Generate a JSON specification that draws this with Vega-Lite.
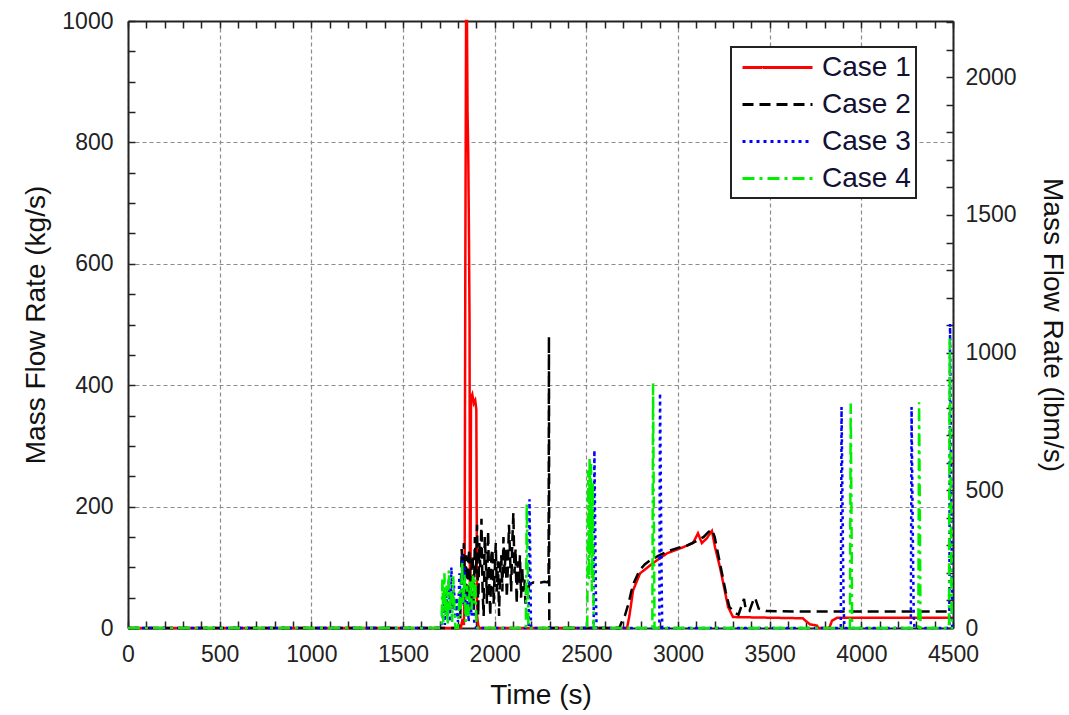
{
  "$schema": "https://vega.github.io/schema/vega-lite/v6.json",
  "width": 825,
  "height": 607,
  "autosize": {"type": "none"},
  "padding": {"left": 128, "top": 21, "right": 116, "bottom": 87},
  "background": "white",
  "config": {
    "font": "Liberation Sans",
    "view": {"stroke": null},
    "axis": {"labelFont": "Liberation Sans", "titleFont": "Liberation Sans", "labelColor": "#222222", "titleColor": "#111111", "tickColor": "#222222", "tickWidth": 1.5, "domain": true, "domainColor": "#222222", "domainWidth": 2},
    "legend": {"strokeColor": "#222222", "strokeWidth": 2, "fillColor": "white"}
  },
  "layer": [
    {
      "data": {
        "values": [
          {"case": "Case 1", "time": 0, "flow": 0},
          {"case": "Case 1", "time": 1815, "flow": 0},
          {"case": "Case 1", "time": 1825, "flow": 15},
          {"case": "Case 1", "time": 1832, "flow": 5},
          {"case": "Case 1", "time": 1836, "flow": 60},
          {"case": "Case 1", "time": 1840, "flow": 600},
          {"case": "Case 1", "time": 1844, "flow": 1000},
          {"case": "Case 1", "time": 1849, "flow": 1000},
          {"case": "Case 1", "time": 1852, "flow": 850},
          {"case": "Case 1", "time": 1856, "flow": 780},
          {"case": "Case 1", "time": 1860, "flow": 640},
          {"case": "Case 1", "time": 1863, "flow": 500},
          {"case": "Case 1", "time": 1865, "flow": 60},
          {"case": "Case 1", "time": 1868, "flow": 30},
          {"case": "Case 1", "time": 1871, "flow": 380},
          {"case": "Case 1", "time": 1878, "flow": 385},
          {"case": "Case 1", "time": 1886, "flow": 370},
          {"case": "Case 1", "time": 1894, "flow": 375},
          {"case": "Case 1", "time": 1900, "flow": 360},
          {"case": "Case 1", "time": 1904, "flow": 20},
          {"case": "Case 1", "time": 1910, "flow": 5},
          {"case": "Case 1", "time": 1915, "flow": 0},
          {"case": "Case 1", "time": 2722, "flow": 0},
          {"case": "Case 1", "time": 2735, "flow": 20},
          {"case": "Case 1", "time": 2755, "flow": 62},
          {"case": "Case 1", "time": 2793, "flow": 90},
          {"case": "Case 1", "time": 2864, "flow": 107},
          {"case": "Case 1", "time": 2940, "flow": 123},
          {"case": "Case 1", "time": 3027, "flow": 133},
          {"case": "Case 1", "time": 3082, "flow": 140},
          {"case": "Case 1", "time": 3109, "flow": 156},
          {"case": "Case 1", "time": 3130, "flow": 140},
          {"case": "Case 1", "time": 3158, "flow": 148},
          {"case": "Case 1", "time": 3175, "flow": 156},
          {"case": "Case 1", "time": 3185, "flow": 160},
          {"case": "Case 1", "time": 3202, "flow": 133},
          {"case": "Case 1", "time": 3229, "flow": 100},
          {"case": "Case 1", "time": 3273, "flow": 35},
          {"case": "Case 1", "time": 3300, "flow": 18},
          {"case": "Case 1", "time": 3500, "flow": 17},
          {"case": "Case 1", "time": 3680, "flow": 16},
          {"case": "Case 1", "time": 3720, "flow": 6},
          {"case": "Case 1", "time": 3758, "flow": 4},
          {"case": "Case 1", "time": 3765, "flow": 0},
          {"case": "Case 1", "time": 3825, "flow": 0},
          {"case": "Case 1", "time": 3840, "flow": 12},
          {"case": "Case 1", "time": 3868, "flow": 17},
          {"case": "Case 1", "time": 4500, "flow": 17},

          {"case": "Case 2", "time": 0, "flow": 0},
          {"case": "Case 2", "time": 1800, "flow": 0},
          {"case": "Case 2", "time": 1812, "flow": 10},
          {"case": "Case 2", "time": 1820, "flow": 130},
          {"case": "Case 2", "time": 1826, "flow": 90},
          {"case": "Case 2", "time": 1832, "flow": 140},
          {"case": "Case 2", "time": 1838, "flow": 60},
          {"case": "Case 2", "time": 1844, "flow": 120},
          {"case": "Case 2", "time": 1850, "flow": 20},
          {"case": "Case 2", "time": 1856, "flow": 110},
          {"case": "Case 2", "time": 1862, "flow": 130},
          {"case": "Case 2", "time": 1868, "flow": 40},
          {"case": "Case 2", "time": 1874, "flow": 100},
          {"case": "Case 2", "time": 1880, "flow": 120},
          {"case": "Case 2", "time": 1886, "flow": 30},
          {"case": "Case 2", "time": 1892, "flow": 150},
          {"case": "Case 2", "time": 1898, "flow": 90},
          {"case": "Case 2", "time": 1904, "flow": 170},
          {"case": "Case 2", "time": 1910, "flow": 20},
          {"case": "Case 2", "time": 1916, "flow": 140},
          {"case": "Case 2", "time": 1922, "flow": 100},
          {"case": "Case 2", "time": 1928, "flow": 180},
          {"case": "Case 2", "time": 1934, "flow": 60},
          {"case": "Case 2", "time": 1940, "flow": 20},
          {"case": "Case 2", "time": 1946, "flow": 150},
          {"case": "Case 2", "time": 1952, "flow": 110},
          {"case": "Case 2", "time": 1958, "flow": 40},
          {"case": "Case 2", "time": 1964, "flow": 160},
          {"case": "Case 2", "time": 1970, "flow": 80},
          {"case": "Case 2", "time": 1976, "flow": 20},
          {"case": "Case 2", "time": 1982, "flow": 120},
          {"case": "Case 2", "time": 1988, "flow": 130},
          {"case": "Case 2", "time": 1994, "flow": 40},
          {"case": "Case 2", "time": 2000, "flow": 90},
          {"case": "Case 2", "time": 2006, "flow": 140},
          {"case": "Case 2", "time": 2012, "flow": 60},
          {"case": "Case 2", "time": 2018, "flow": 110},
          {"case": "Case 2", "time": 2024, "flow": 20},
          {"case": "Case 2", "time": 2030, "flow": 100},
          {"case": "Case 2", "time": 2036, "flow": 120},
          {"case": "Case 2", "time": 2042, "flow": 60},
          {"case": "Case 2", "time": 2048, "flow": 150},
          {"case": "Case 2", "time": 2054, "flow": 90},
          {"case": "Case 2", "time": 2060, "flow": 130},
          {"case": "Case 2", "time": 2066, "flow": 50},
          {"case": "Case 2", "time": 2072, "flow": 100},
          {"case": "Case 2", "time": 2078, "flow": 170},
          {"case": "Case 2", "time": 2084, "flow": 120},
          {"case": "Case 2", "time": 2090, "flow": 60},
          {"case": "Case 2", "time": 2096, "flow": 140},
          {"case": "Case 2", "time": 2102, "flow": 190},
          {"case": "Case 2", "time": 2108, "flow": 90},
          {"case": "Case 2", "time": 2114, "flow": 130},
          {"case": "Case 2", "time": 2120, "flow": 40},
          {"case": "Case 2", "time": 2126, "flow": 110},
          {"case": "Case 2", "time": 2132, "flow": 70},
          {"case": "Case 2", "time": 2138, "flow": 120},
          {"case": "Case 2", "time": 2144, "flow": 50},
          {"case": "Case 2", "time": 2150, "flow": 100},
          {"case": "Case 2", "time": 2156, "flow": 60},
          {"case": "Case 2", "time": 2162, "flow": 80},
          {"case": "Case 2", "time": 2168, "flow": 40},
          {"case": "Case 2", "time": 2174, "flow": 70},
          {"case": "Case 2", "time": 2180, "flow": 60},
          {"case": "Case 2", "time": 2190, "flow": 72},
          {"case": "Case 2", "time": 2210, "flow": 75},
          {"case": "Case 2", "time": 2240, "flow": 74},
          {"case": "Case 2", "time": 2270, "flow": 76},
          {"case": "Case 2", "time": 2294, "flow": 75},
          {"case": "Case 2", "time": 2296, "flow": 480},
          {"case": "Case 2", "time": 2298, "flow": 0},
          {"case": "Case 2", "time": 2680, "flow": 0},
          {"case": "Case 2", "time": 2690, "flow": 8},
          {"case": "Case 2", "time": 2710, "flow": 20},
          {"case": "Case 2", "time": 2730, "flow": 40},
          {"case": "Case 2", "time": 2745, "flow": 60},
          {"case": "Case 2", "time": 2760, "flow": 75},
          {"case": "Case 2", "time": 2790, "flow": 95},
          {"case": "Case 2", "time": 2820, "flow": 105},
          {"case": "Case 2", "time": 2850, "flow": 112},
          {"case": "Case 2", "time": 2900, "flow": 120},
          {"case": "Case 2", "time": 2950, "flow": 127},
          {"case": "Case 2", "time": 3000, "flow": 132},
          {"case": "Case 2", "time": 3050, "flow": 136},
          {"case": "Case 2", "time": 3100, "flow": 143},
          {"case": "Case 2", "time": 3140, "flow": 150},
          {"case": "Case 2", "time": 3165, "flow": 158},
          {"case": "Case 2", "time": 3185, "flow": 162},
          {"case": "Case 2", "time": 3200, "flow": 150},
          {"case": "Case 2", "time": 3220, "flow": 120},
          {"case": "Case 2", "time": 3240, "flow": 90},
          {"case": "Case 2", "time": 3260, "flow": 60},
          {"case": "Case 2", "time": 3280, "flow": 35},
          {"case": "Case 2", "time": 3310, "flow": 25},
          {"case": "Case 2", "time": 3330, "flow": 22},
          {"case": "Case 2", "time": 3345, "flow": 35},
          {"case": "Case 2", "time": 3360, "flow": 48},
          {"case": "Case 2", "time": 3370, "flow": 30},
          {"case": "Case 2", "time": 3390, "flow": 28},
          {"case": "Case 2", "time": 3410, "flow": 45},
          {"case": "Case 2", "time": 3420, "flow": 50},
          {"case": "Case 2", "time": 3440, "flow": 32},
          {"case": "Case 2", "time": 3480, "flow": 28},
          {"case": "Case 2", "time": 3700, "flow": 27},
          {"case": "Case 2", "time": 4000, "flow": 27},
          {"case": "Case 2", "time": 4300, "flow": 27},
          {"case": "Case 2", "time": 4500, "flow": 27},

          {"case": "Case 3", "time": 0, "flow": 0},
          {"case": "Case 3", "time": 1700, "flow": 0},
          {"case": "Case 3", "time": 1715, "flow": 10},
          {"case": "Case 3", "time": 1722, "flow": 40},
          {"case": "Case 3", "time": 1728, "flow": 5},
          {"case": "Case 3", "time": 1736, "flow": 60},
          {"case": "Case 3", "time": 1742, "flow": 20},
          {"case": "Case 3", "time": 1750, "flow": 80},
          {"case": "Case 3", "time": 1756, "flow": 10},
          {"case": "Case 3", "time": 1764, "flow": 100},
          {"case": "Case 3", "time": 1770, "flow": 30},
          {"case": "Case 3", "time": 1778, "flow": 70},
          {"case": "Case 3", "time": 1784, "flow": 15},
          {"case": "Case 3", "time": 1792, "flow": 50},
          {"case": "Case 3", "time": 1800, "flow": 10},
          {"case": "Case 3", "time": 1808, "flow": 90},
          {"case": "Case 3", "time": 1816, "flow": 30},
          {"case": "Case 3", "time": 1824, "flow": 120},
          {"case": "Case 3", "time": 1830, "flow": 40},
          {"case": "Case 3", "time": 1836, "flow": 100},
          {"case": "Case 3", "time": 1842, "flow": 20},
          {"case": "Case 3", "time": 1850, "flow": 70},
          {"case": "Case 3", "time": 1858, "flow": 10},
          {"case": "Case 3", "time": 1866, "flow": 50},
          {"case": "Case 3", "time": 1874, "flow": 20},
          {"case": "Case 3", "time": 1882, "flow": 40},
          {"case": "Case 3", "time": 1890, "flow": 5},
          {"case": "Case 3", "time": 1900, "flow": 0},
          {"case": "Case 3", "time": 2185, "flow": 0},
          {"case": "Case 3", "time": 2190, "flow": 212},
          {"case": "Case 3", "time": 2194, "flow": 120},
          {"case": "Case 3", "time": 2198, "flow": 0},
          {"case": "Case 3", "time": 2540, "flow": 0},
          {"case": "Case 3", "time": 2544, "flow": 293},
          {"case": "Case 3", "time": 2548, "flow": 180},
          {"case": "Case 3", "time": 2552, "flow": 60},
          {"case": "Case 3", "time": 2556, "flow": 0},
          {"case": "Case 3", "time": 2898, "flow": 0},
          {"case": "Case 3", "time": 2902, "flow": 387},
          {"case": "Case 3", "time": 2906, "flow": 250},
          {"case": "Case 3", "time": 2910, "flow": 100},
          {"case": "Case 3", "time": 2914, "flow": 0},
          {"case": "Case 3", "time": 3888, "flow": 0},
          {"case": "Case 3", "time": 3892, "flow": 364},
          {"case": "Case 3", "time": 3896, "flow": 250},
          {"case": "Case 3", "time": 3900, "flow": 120},
          {"case": "Case 3", "time": 3904, "flow": 30},
          {"case": "Case 3", "time": 3908, "flow": 0},
          {"case": "Case 3", "time": 4270, "flow": 0},
          {"case": "Case 3", "time": 4274, "flow": 364},
          {"case": "Case 3", "time": 4278, "flow": 240},
          {"case": "Case 3", "time": 4282, "flow": 120},
          {"case": "Case 3", "time": 4286, "flow": 20},
          {"case": "Case 3", "time": 4290, "flow": 0},
          {"case": "Case 3", "time": 4480, "flow": 0},
          {"case": "Case 3", "time": 4484, "flow": 501},
          {"case": "Case 3", "time": 4490, "flow": 250},
          {"case": "Case 3", "time": 4495, "flow": 0},
          {"case": "Case 3", "time": 4500, "flow": 0},

          {"case": "Case 4", "time": 0, "flow": 0},
          {"case": "Case 4", "time": 1710, "flow": 0},
          {"case": "Case 4", "time": 1715, "flow": 80},
          {"case": "Case 4", "time": 1720, "flow": 10},
          {"case": "Case 4", "time": 1726, "flow": 90},
          {"case": "Case 4", "time": 1732, "flow": 20},
          {"case": "Case 4", "time": 1738, "flow": 70},
          {"case": "Case 4", "time": 1744, "flow": 5},
          {"case": "Case 4", "time": 1750, "flow": 95},
          {"case": "Case 4", "time": 1756, "flow": 30},
          {"case": "Case 4", "time": 1762, "flow": 60},
          {"case": "Case 4", "time": 1768, "flow": 10},
          {"case": "Case 4", "time": 1774, "flow": 85},
          {"case": "Case 4", "time": 1780, "flow": 40},
          {"case": "Case 4", "time": 1786, "flow": 0},
          {"case": "Case 4", "time": 1800, "flow": 0},
          {"case": "Case 4", "time": 1808, "flow": 60},
          {"case": "Case 4", "time": 1814, "flow": 20},
          {"case": "Case 4", "time": 1822, "flow": 110},
          {"case": "Case 4", "time": 1828, "flow": 40},
          {"case": "Case 4", "time": 1836, "flow": 90},
          {"case": "Case 4", "time": 1842, "flow": 10},
          {"case": "Case 4", "time": 1850, "flow": 70},
          {"case": "Case 4", "time": 1858, "flow": 20},
          {"case": "Case 4", "time": 1866, "flow": 80},
          {"case": "Case 4", "time": 1874, "flow": 30},
          {"case": "Case 4", "time": 1882, "flow": 90},
          {"case": "Case 4", "time": 1888, "flow": 40},
          {"case": "Case 4", "time": 1894, "flow": 80},
          {"case": "Case 4", "time": 1900, "flow": 10},
          {"case": "Case 4", "time": 1906, "flow": 0},
          {"case": "Case 4", "time": 2170, "flow": 0},
          {"case": "Case 4", "time": 2175, "flow": 205},
          {"case": "Case 4", "time": 2180, "flow": 100},
          {"case": "Case 4", "time": 2184, "flow": 0},
          {"case": "Case 4", "time": 2505, "flow": 0},
          {"case": "Case 4", "time": 2510, "flow": 260},
          {"case": "Case 4", "time": 2514, "flow": 80},
          {"case": "Case 4", "time": 2518, "flow": 280},
          {"case": "Case 4", "time": 2522, "flow": 120},
          {"case": "Case 4", "time": 2526, "flow": 270},
          {"case": "Case 4", "time": 2530, "flow": 60},
          {"case": "Case 4", "time": 2535, "flow": 240},
          {"case": "Case 4", "time": 2540, "flow": 0},
          {"case": "Case 4", "time": 2860, "flow": 0},
          {"case": "Case 4", "time": 2864, "flow": 403},
          {"case": "Case 4", "time": 2868, "flow": 200},
          {"case": "Case 4", "time": 2872, "flow": 0},
          {"case": "Case 4", "time": 3938, "flow": 0},
          {"case": "Case 4", "time": 3942, "flow": 370},
          {"case": "Case 4", "time": 3946, "flow": 200},
          {"case": "Case 4", "time": 3950, "flow": 0},
          {"case": "Case 4", "time": 4311, "flow": 0},
          {"case": "Case 4", "time": 4315, "flow": 372},
          {"case": "Case 4", "time": 4319, "flow": 200},
          {"case": "Case 4", "time": 4323, "flow": 0},
          {"case": "Case 4", "time": 4478, "flow": 0},
          {"case": "Case 4", "time": 4482, "flow": 477},
          {"case": "Case 4", "time": 4488, "flow": 200},
          {"case": "Case 4", "time": 4494, "flow": 0},
          {"case": "Case 4", "time": 4500, "flow": 0}
        ]
      },
      "mark": {"type": "line", "strokeWidth": 2.5, "clip": false},
      "encoding": {
        "x": {
          "field": "time", "type": "quantitative",
          "scale": {"domain": [0, 4500], "nice": false},
          "axis": {
            "orient": "bottom", "title": "Time (s)", "titleFontSize": 28, "titleFontWeight": "normal",
            "titleX": 412.5, "titleY": 75, "titleBaseline": "alphabetic", "titleAlign": "center",
            "values": [0,100,200,300,400,500,600,700,800,900,1000,1100,1200,1300,1400,1500,1600,1700,1800,1900,2000,2100,2200,2300,2400,2500,2600,2700,2800,2900,3000,3100,3200,3300,3400,3500,3600,3700,3800,3900,4000,4100,4200,4300,4400,4500],
            "format": "d",
            "labelExpr": "datum.value % 500 === 0 ? datum.label : ''",
            "labelFontSize": 23, "labelPadding": 22, "labelFlush": false, "labelOverlap": false,
            "tickSize": -7,
            "grid": true, "gridColor": "#8c8c8c", "gridDash": [4, 3], "gridWidth": 1.2,
            "gridOpacity": {"condition": {"test": "datum.value % 500 === 0", "value": 1}, "value": 0}
          }
        },
        "y": {
          "field": "flow", "type": "quantitative",
          "scale": {"domain": [0, 1000], "nice": false},
          "axis": {
            "orient": "left", "title": "Mass Flow Rate (kg/s)", "titleFontSize": 28, "titleFontWeight": "normal",
            "titleX": -84, "titleY": 303.5, "titleAngle": -90, "titleBaseline": "alphabetic", "titleAlign": "center",
            "values": [0,50,100,150,200,250,300,350,400,450,500,550,600,650,700,750,800,850,900,950,1000],
            "format": "d",
            "labelExpr": "datum.value % 200 === 0 ? datum.label : ''",
            "labelFontSize": 23, "labelPadding": 22, "labelFlush": false, "labelOverlap": false,
            "tickSize": -7,
            "grid": true, "gridColor": "#8c8c8c", "gridDash": [4, 3], "gridWidth": 1.2,
            "gridOpacity": {"condition": {"test": "datum.value % 200 === 0", "value": 1}, "value": 0}
          }
        },
        "color": {
          "field": "case", "type": "nominal",
          "scale": {"domain": ["Case 1", "Case 2", "Case 3", "Case 4"], "range": ["#ff0000", "#000000", "#0000ff", "#00ee00"]},
          "legend": {
            "title": null, "orient": "none", "legendX": 603, "legendY": 26,
            "padding": 5,
            "labelFontSize": 28, "labelFont": "Liberation Sans", "labelColor": "#111133",
            "symbolType": "M-2.5,0H2.5", "symbolSize": 784, "symbolStrokeWidth": 3,
            "symbolOffset": 26, "labelOffset": 29, "rowPadding": 7
          }
        },
        "strokeDash": {
          "field": "case", "type": "nominal",
          "scale": {"domain": ["Case 1", "Case 2", "Case 3", "Case 4"], "range": [[1, 0], [11, 6], [3, 4], [12, 5, 3, 5]]},
          "legend": {"title": null}
        }
      }
    },
    {
      "data": {"values": [{"time": 0, "lbm": 0}, {"time": 4500, "lbm": 2204.6}]},
      "mark": {"type": "point", "opacity": 0},
      "encoding": {
        "x": {
          "field": "time", "type": "quantitative",
          "scale": {"domain": [0, 4500], "nice": false},
          "axis": {
            "orient": "top", "title": null, "labels": false, "grid": false, "tickSize": -7,
            "values": [0,100,200,300,400,500,600,700,800,900,1000,1100,1200,1300,1400,1500,1600,1700,1800,1900,2000,2100,2200,2300,2400,2500,2600,2700,2800,2900,3000,3100,3200,3300,3400,3500,3600,3700,3800,3900,4000,4100,4200,4300,4400,4500]
          }
        },
        "y": {
          "field": "lbm", "type": "quantitative",
          "scale": {"domain": [0, 2204.6], "nice": false},
          "axis": {
            "orient": "right", "title": "Mass Flow Rate (lbm/s)", "titleFontSize": 28, "titleFontWeight": "normal",
            "titleX": 90, "titleY": 303.5, "titleAngle": 90, "titleBaseline": "alphabetic", "titleAlign": "center",
            "values": [0,100,200,300,400,500,600,700,800,900,1000,1100,1200,1300,1400,1500,1600,1700,1800,1900,2000,2100,2200],
            "format": "d",
            "labelExpr": "datum.value % 500 === 0 ? datum.label : ''",
            "labelFontSize": 23, "labelPadding": 19, "labelFlush": false, "labelOverlap": false,
            "tickSize": -7, "grid": false
          }
        }
      }
    }
  ],
  "resolve": {"scale": {"y": "independent"}, "axis": {"x": "independent", "y": "independent"}}
}
